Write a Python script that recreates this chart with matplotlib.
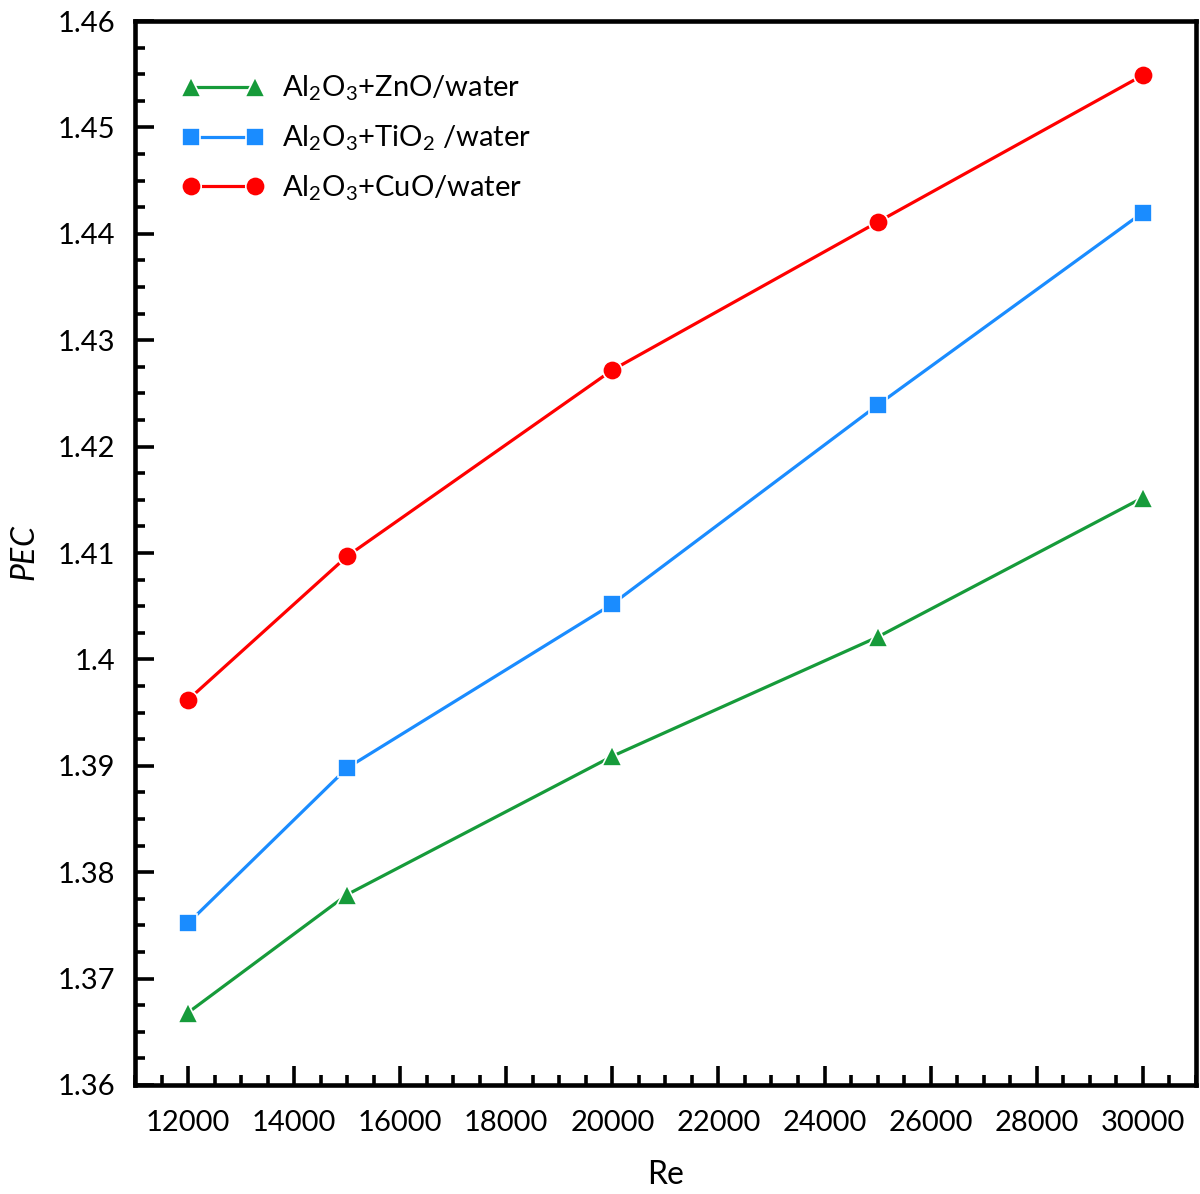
import matplotlib
matplotlib.use("Agg")
import matplotlib.pyplot as plt
from matplotlib.ticker import MultipleLocator

plt.rcParams['font.family'] = ['Lato', 'DejaVu Sans']
plt.rcParams['mathtext.fontset'] = 'custom'
plt.rcParams['mathtext.rm'] = 'Lato'
plt.rcParams['mathtext.it'] = 'Lato:italic'

# Data
re_values = [12000, 15000, 20000, 25000, 30000]
pec_zno = [1.3668, 1.3779, 1.3909, 1.4021, 1.4152]
pec_tio2 = [1.3752, 1.3898, 1.4052, 1.4239, 1.4420]
pec_cuo = [1.3962, 1.4097, 1.4272, 1.4411, 1.4549]

labels = ["Al$_2$O$_3$+ZnO/water",
          "Al$_2$O$_3$+TiO$_2$ /water",
          "Al$_2$O$_3$+CuO/water"]
colors = ["#169b3a", "#1a8cff", "#ff0000"]
markers = ["^", "s", "o"]

fig = plt.figure(figsize=(12, 11.94), dpi=100)
ax = fig.add_axes([0.1125, 0.0913, 0.884, 0.8911])

for ys, lab, c, m in zip([pec_zno, pec_tio2, pec_cuo], labels, colors, markers):
    ax.plot(re_values, ys, color=c, lw=2.3, marker=m, ms=14 if m != "s" else 13,
            mec="white", mew=1.2, label=lab)

ax.set_xlim(11000, 31000)
ax.set_ylim(1.36, 1.46)
ax.xaxis.set_major_locator(MultipleLocator(2000))
ax.xaxis.set_minor_locator(MultipleLocator(500))
ax.yaxis.set_major_locator(MultipleLocator(0.01))
ax.yaxis.set_minor_locator(MultipleLocator(0.0025))
ax.set_xticks(range(12000, 30001, 2000))
ax.set_yticks([1.36 + 0.01 * i for i in range(11)])
ax.set_yticklabels(["1.36", "1.37", "1.38", "1.39", "1.4", "1.41", "1.42",
                    "1.43", "1.44", "1.45", "1.46"])

for s in ax.spines.values():
    s.set_linewidth(3.3)
ax.tick_params(which="major", direction="in", length=14, width=2.6,
               labelsize=21, pad=14)
ax.tick_params(which="minor", direction="in", length=7.5, width=2.6)
ax.tick_params(axis="x", which="major", pad=18)

ax.set_xlabel("Re", fontsize=23, labelpad=17)
ax.set_ylabel("$PEC$", fontsize=23, labelpad=12)

ax.legend(loc="upper left", bbox_to_anchor=(0.02, 0.975), frameon=False,
          fontsize=21, numpoints=2, handlelength=2.8, handletextpad=0.6,
          labelspacing=0.7)

fig.savefig("out.png", dpi=100)
